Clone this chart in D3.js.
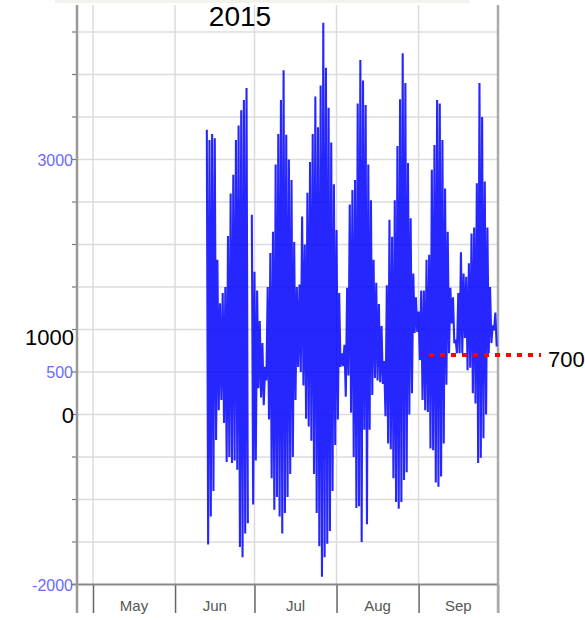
<!DOCTYPE html>
<html>
<head>
    <meta charset="utf-8">
    <style>
        body {
            margin: 0;
            background: #fff;
        }
        svg {
            display: block;
            font-family: "Liberation Sans", Arial, sans-serif;
        }
        .grid line {
            stroke: #dcdcdc;
            stroke-width: 1.5;
        }
        .blue-label {
            fill: #6a6aff;
            font-size: 16px;
        }
        .big-label {
            fill: #000;
            font-size: 22px;
        }
        .month-label {
            fill: #555;
            font-size: 15px;
        }
    </style>
    <script src="https://d3js.org/d3.v7.min.js"></script>
</head>
<body>
    <div id="chart"></div>

    <script>
        // month boundaries on the x axis and their labels
        const monthStarts = ["2015-05-01", "2015-06-01", "2015-07-01", "2015-08-01", "2015-09-01", "2015-10-01"];
        const monthNames = ["May", "Jun", "Jul", "Aug", "Sep"];

        // y axis: grid every 500, only a few labels are printed (blue)
        const gridValues = [-2000, -1500, -1000, -500, 0, 500, 1000, 1500, 2000, 2500, 3000, 3500, 4000, 4500];
        const blueTicks = [3000, 500, -2000];
        // hand-written black labels on top of the chart
        const blackTicks = [1000, 0];
        const titleText = "2015";
        const refValue = 700;

        // daily series: each day has a high and then a low (null = missing day)
        const firstDay = "2015-06-13";
        const highs = [
            3350, 3230, 3300, 3250, 1820, 1310, 1430, 1500, 2100, 2600,
            2820, 3230, 3400, 3580, 3700, 3840, null, 2350, 1680, 1460,
            1100, 840, 560, 1500, 1900, 2150, 2940, 3300, 3700, 4050,
            3290, 3000, 2760, 2030, 1500, 1530, 2330, 2000, 2610, 2970,
            3300, 3740, 3380, 3870, 4610, 4080, 3610, 3200, 2710, 2170,
            1430, 720, 820, 1490, 2470, 2640, 2760, 3660, 4170, 3930,
            3640, 2940, 2520, 1820, 1550, 1300, 1040, 630, 1520, 2290,
            2090, 2520, 3160, 3710, 4250, 3900, 2960, 2310, 1660, 1380,
            1210, 1460, 1460, 1820, 1880, 2880, 3170, 3700, 3660, 3230,
            2660, 2150, 1490, 1380, 880, 1430, 1910, 1660, 1620, 1780,
            2130, 2200, 2720, 3900, 3500, 2740, 2200, 1500, 1050, 1200
        ];
        const lows = [
            -1530, -1200, -900, -300, 50, 170, -100, -560, -500, -570,
            -540, -650, -1560, -1680, -1400, -1280, null, -1060, -540, 310,
            200, 110, 400, -60, -750, -1120, -970, -1200, -1400, -1160,
            -970, -700, -500, 170, 560, 500, 340, -50, -140, -310,
            -700, -1160, -1550, -1910, -1680, -1520, -1370, -900, -360, -60,
            560, 570, 210, 460, 20, -500, -1100, -1080, -1500, -180,
            -1290, -180, 230, 430, 400, 380, 360, -20, -340, -410,
            -750, -1030, -1110, -1030, -770, -680, 0, 250, 960, 970,
            640, 170, 50, 30, -400, -420, -800, -850, -730, -340,
            350, 720, 1070, 840, 720, 720, 720, 900, 520, 550,
            250, 130, -570, -510, -280, 0, 720, 840, 990, 800
        ];

        const W = 585, H = 620;
        const svg = d3.select("#chart").append("svg")
            .attr("width", W)
            .attr("height", H);

        const parse = d3.utcParse("%Y-%m-%d");
        const months = monthStarts.map(parse);

        const x = d3.scaleUtc()
            .domain([months[0], months[months.length - 1]])
            .range([93, 498]);

        const y = d3.scaleLinear()
            .domain([-2000, 3000])
            .range([584.5, 159.5]);

        const plotTop = 5, axisLeft = 77, plotRight = 498, tickBottom = 613;

        // faint strip of the map that sits above the chart (cropped)
        svg.append("rect")
            .attr("x", 55).attr("y", 0)
            .attr("width", 415).attr("height", 3)
            .attr("fill", "#f1f3ed");

        // horizontal grid
        svg.append("g")
            .attr("class", "grid")
            .selectAll("line")
            .data(gridValues.filter(v => v > -2000))
            .enter()
            .append("line")
            .attr("x1", axisLeft)
            .attr("x2", plotRight)
            .attr("y1", d => y(d))
            .attr("y2", d => y(d));

        // vertical grid at month boundaries
        svg.append("g")
            .attr("class", "grid")
            .selectAll("line")
            .data(months.slice(0, -1))
            .enter()
            .append("line")
            .attr("x1", d => x(d))
            .attr("x2", d => x(d))
            .attr("y1", plotTop)
            .attr("y2", y(-2000));

        // small ticks on the left axis
        svg.append("g")
            .selectAll("line")
            .data(gridValues)
            .enter()
            .append("line")
            .attr("x1", axisLeft - 5)
            .attr("x2", axisLeft)
            .attr("y1", d => y(d))
            .attr("y2", d => y(d))
            .attr("stroke", "#777")
            .attr("stroke-width", 1.2);

        // bottom axis with month ticks
        const xAxis = d3.axisBottom(x)
            .tickValues(months)
            .tickSize(tickBottom - y(-2000))
            .tickFormat("");
        const gx = svg.append("g")
            .attr("transform", `translate(0,${y(-2000)})`)
            .call(xAxis);
        gx.select(".domain").remove();
        gx.selectAll(".tick line")
            .attr("stroke", "#666")
            .attr("stroke-width", 1.5);

        svg.append("line")
            .attr("x1", axisLeft - 4).attr("x2", plotRight)
            .attr("y1", y(-2000)).attr("y2", y(-2000))
            .attr("stroke", "#888")
            .attr("stroke-width", 2);

        // left axis and right frame
        svg.append("line")
            .attr("x1", axisLeft).attr("x2", axisLeft)
            .attr("y1", plotTop).attr("y2", tickBottom)
            .attr("stroke", "#999")
            .attr("stroke-width", 2.5);
        svg.append("line")
            .attr("x1", plotRight).attr("x2", plotRight)
            .attr("y1", plotTop).attr("y2", tickBottom)
            .attr("stroke", "#aaa")
            .attr("stroke-width", 2.5);

        // month names centred in each month
        svg.selectAll(".month-label")
            .data(monthNames)
            .enter()
            .append("text")
            .attr("class", "month-label")
            .attr("text-anchor", "middle")
            .attr("x", (d, i) => (x(months[i]) + x(months[i + 1])) / 2)
            .attr("y", 611)
            .text(d => d);

        // blue y labels
        svg.selectAll(".blue-label")
            .data(blueTicks)
            .enter()
            .append("text")
            .attr("class", "blue-label")
            .attr("text-anchor", "end")
            .attr("x", 73)
            .attr("y", d => y(d) + 6)
            .text(d => d);

        // the series: high then low for every day
        const start = parse(firstDay);
        const points = [];
        highs.forEach((h, i) => {
            const day = d3.utcDay.offset(start, i);
            if (h == null || lows[i] == null) {
                points.push({ t: day, v: null });
                return;
            }
            points.push({ t: day, v: h });
            points.push({ t: d3.utcHour.offset(day, 12), v: lows[i] });
        });

        const line = d3.line()
            .defined(d => d.v != null)
            .x(d => x(d.t))
            .y(d => y(d.v));

        svg.append("path")
            .datum(points)
            .attr("d", line)
            .attr("fill", "none")
            .attr("stroke", "#0000ff")
            .attr("stroke-opacity", 0.85)
            .attr("stroke-width", 2.1)
            .attr("stroke-linejoin", "miter");

        // red dotted reference line
        svg.append("line")
            .attr("x1", 429).attr("x2", 541)
            .attr("y1", y(refValue)).attr("y2", y(refValue))
            .attr("stroke", "#ff0000")
            .attr("stroke-width", 4)
            .attr("stroke-dasharray", "5,6");

        svg.append("text")
            .attr("class", "big-label")
            .attr("x", 548)
            .attr("y", y(refValue) + 12)
            .text(refValue);

        // black labels written over the axis (the 0 sits on its line, 1000 just under)
        svg.selectAll(".black-label")
            .data(blackTicks)
            .enter()
            .append("text")
            .attr("class", "big-label")
            .attr("text-anchor", "end")
            .attr("x", 74)
            .attr("y", d => y(d) + (d === 0 ? 8.5 : 15.5))
            .text(d => d);

        svg.append("text")
            .attr("x", 240)
            .attr("y", 26)
            .attr("text-anchor", "middle")
            .attr("font-size", "28px")
            .attr("fill", "#000")
            .text(titleText);
    </script>
</body>
</html>
